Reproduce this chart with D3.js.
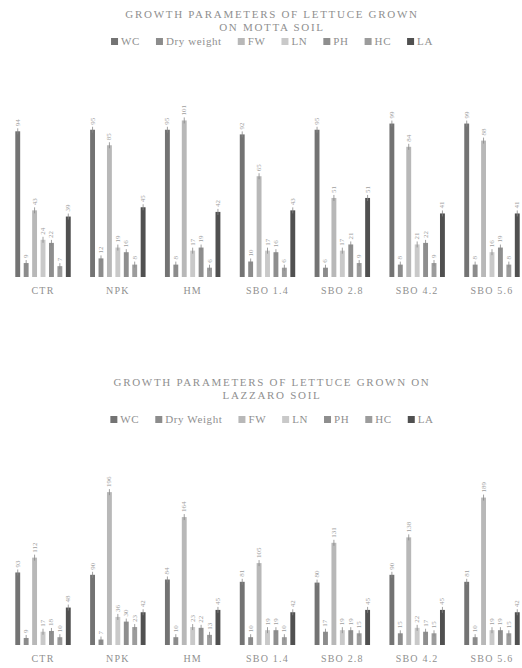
<!DOCTYPE html>
<html><head><meta charset="utf-8">
<script src="https://cdn.jsdelivr.net/npm/d3@7"></script>
<style>
html,body{margin:0;padding:0;background:#fff;}
svg{display:block;}
</style></head>
<body>
<script>
const categories = ["CTR","NPK","HM","SBO 1.4","SBO 2.8","SBO 4.2","SBO 5.6"];
const seriesTop = ["WC","Dry weight","FW","LN","PH","HC","LA"];
const seriesBottom = ["WC","Dry Weight","FW","LN","PH","HC","LA"];
const titleTop = ["GROWTH PARAMETERS OF LETTUCE GROWN","ON MOTTA SOIL"];
const titleBottom = ["GROWTH PARAMETERS OF LETTUCE GROWN ON","LAZZARO SOIL"];

// Motta soil values, one array per series (order of categories)
const mottaWC = [94, 95, 95, 92, 95, 99, 99];
const mottaDW = [9, 12, 8, 10, 6, 8, 8];
const mottaFW = [43, 85, 101, 65, 51, 84, 88];
const mottaLN = [24, 19, 17, 17, 17, 21, 16];
const mottaPH = [22, 16, 19, 16, 21, 22, 19];
const mottaHC = [7, 8, 6, 6, 9, 9, 8];
const mottaLA = [39, 45, 42, 43, 51, 41, 41];

// Lazzaro soil values
const lazWC = [93, 90, 84, 81, 80, 90, 81];
const lazDW = [9, 7, 10, 10, 17, 15, 10];
const lazFW = [112, 196, 164, 105, 131, 138, 189];
const lazLN = [17, 36, 23, 19, 19, 22, 19];
const lazPH = [18, 30, 22, 19, 19, 17, 19];
const lazHC = [10, 23, 13, 10, 15, 15, 15];
const lazLA = [48, 42, 45, 42, 45, 45, 42];

const colors = ["#737373","#8c8c8c","#b8b8b8","#c9c9c9","#8e8e8e","#9c9c9c","#505050"];

const W = 522, H = 668;
const svg = d3.select("body").append("svg").attr("width", W).attr("height", H);

const x0 = d3.scaleBand().domain(categories).range([5.6, 529.4]).paddingInner(0);
const x1 = d3.scaleBand().domain(d3.range(7)).range([0, x0.bandwidth()*0.786]).paddingInner(0.42).paddingOuter(0.2);
const groupOffset = (x0.bandwidth() - x0.bandwidth()*0.786)/2;

function drawChart(cfg) {
  const g = svg.append("g");
  const y = d3.scaleLinear().domain(cfg.domain).range([cfg.base, cfg.top]);
  cfg.title.forEach((t, i) => {
    g.append("text").attr("x", 272).attr("y", cfg.titleY + i*13)
      .attr("text-anchor","middle").attr("font-family","Liberation Serif, serif")
      .attr("font-size", 11).attr("letter-spacing", 1.7).attr("fill","#8f8f8f").text(t);
  });
  const leg = g.append("g");
  let lx = 0;
  cfg.series.forEach((s, i) => {
    const it = leg.append("g").attr("transform", `translate(${lx},0)`);
    it.append("rect").attr("x",0).attr("y",-7).attr("width",7).attr("height",7).attr("fill",colors[i]);
    const tx = it.append("text").attr("x",10).attr("y",0).attr("font-family","Liberation Serif, serif")
      .attr("font-size",11).attr("letter-spacing",0.6).attr("fill","#8f8f8f").text(s);
    lx += 10 + tx.node().getComputedTextLength() + 16;
  });
  leg.attr("transform", `translate(${272 - (lx-16)/2},${cfg.legendY})`);

  const rows = categories.map((c, ci) => ({c, vals: cfg.data.map(arr => arr[ci])}));
  const grp = g.selectAll("g.grp").data(rows).join("g").attr("class","grp")
    .attr("transform", d => `translate(${x0(d.c) + groupOffset},0)`);
  grp.selectAll("rect").data(d => d.vals).join("rect")
    .attr("x", (v,i) => x1(i)).attr("width", x1.bandwidth())
    .attr("y", v => y(v)).attr("height", v => cfg.base - y(v))
    .attr("fill", (v,i) => colors[i]);
  grp.selectAll("line.err").data(d => d.vals).join("line").attr("class","err")
    .attr("x1", (v,i) => x1(i) + x1.bandwidth()/2).attr("x2", (v,i) => x1(i) + x1.bandwidth()/2)
    .attr("y1", v => y(v) - 3).attr("y2", v => y(v) + 3)
    .attr("stroke", "#888").attr("stroke-width", 0.8);
  grp.selectAll("text.val").data(d => d.vals).join("text").attr("class","val")
    .attr("transform", (v,i) => `translate(${x1(i) + x1.bandwidth()/2 + 2},${y(v) - 5}) rotate(-90)`)
    .attr("font-family","Liberation Serif, serif").attr("font-size",7).attr("fill","#a0a0a0")
    .text(v => v);
  g.selectAll("text.cat").data(categories).join("text").attr("class","cat")
    .attr("x", c => x0(c) + x0.bandwidth()/2).attr("y", cfg.base + 17)
    .attr("text-anchor","middle").attr("font-family","Liberation Serif, serif")
    .attr("font-size",10).attr("letter-spacing",1.2).attr("fill","#8f8f8f").text(c => c);
}

drawChart({
  title: titleTop, titleY: 18, legendY: 45, series: seriesTop,
  data: [mottaWC, mottaDW, mottaFW, mottaLN, mottaPH, mottaHC, mottaLA],
  domain: [0, 100], base: 277, top: 122
});
drawChart({
  title: titleBottom, titleY: 386, legendY: 423, series: seriesBottom,
  data: [lazWC, lazDW, lazFW, lazLN, lazPH, lazHC, lazLA],
  domain: [0, 200], base: 645, top: 489
});
</script>
</body></html>
